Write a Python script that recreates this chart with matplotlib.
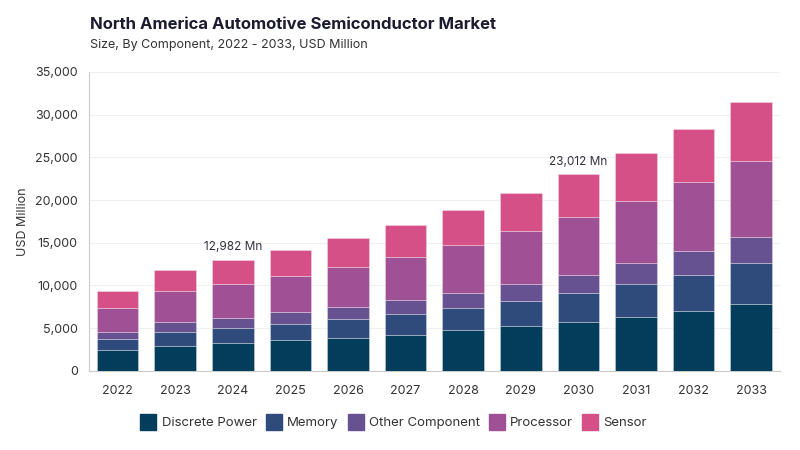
import numpy as np
import matplotlib
matplotlib.use('Agg')
import matplotlib.pyplot as plt
from matplotlib.lines import Line2D

plt.rcParams['font.family'] = ['Inter', 'DejaVu Sans']

# data (USD Million)
years = ['2022', '2023', '2024', '2025', '2026', '2027',
         '2028', '2029', '2030', '2031', '2032', '2033']
discrete_power = [2380, 2960, 3200, 3550, 3900, 4250, 4770, 5190, 5770, 6360, 7060, 7880]
memory = [1290, 1640, 1870, 1990, 2220, 2460, 2640, 3040, 3400, 3830, 4220, 4690]
other_component = [820, 1060, 1170, 1290, 1410, 1600, 1760, 1960, 2110, 2380, 2810, 3120]
processor = [2890, 3670, 3950, 4330, 4680, 5070, 5620, 6160, 6710, 7370, 8080, 8940]
sensor = [2020, 2500, 2792, 2970, 3320, 3680, 4020, 4450, 5022, 5540, 6170, 6830]

series_names = ['Discrete Power', 'Memory', 'Other Component', 'Processor', 'Sensor']
series_vals = [discrete_power, memory, other_component, processor, sensor]
colors = ['#023e5b', '#2f4b7c', '#665191', '#a05195', '#d45087']

callouts = {'2024': '12,982 Mn', '2030': '23,012 Mn'}

fig = plt.figure(figsize=(8, 4.5), dpi=100)
ax = fig.add_axes([0.111, 0.176, 0.864, 0.664])

x = np.arange(len(years))
bottom = np.zeros(len(years))
for name, vals, col in zip(series_names, series_vals, colors):
    ax.bar(x, vals, width=0.72, bottom=bottom, color=col,
           edgecolor=(1, 1, 1, 0.35), linewidth=0.6, label=name, zorder=3)
    bottom += np.array(vals)

for yr, txt in callouts.items():
    i = years.index(yr)
    ax.text(x[i], bottom[i] + 800, txt, ha='center', va='bottom',
            fontsize=8.5, color='#333340')

ax.set_xlim(-0.5, len(years) - 0.5)
ax.set_ylim(0, 35000)
ax.set_yticks(np.arange(0, 35001, 5000))
ax.yaxis.set_major_formatter(matplotlib.ticker.FuncFormatter(lambda v, p: f'{int(v):,}'))
ax.set_xticks(x)
ax.set_xticklabels(years)
ax.tick_params(axis='both', length=0, labelsize=9, colors='#333333')
ax.tick_params(axis='x', pad=10)
ax.tick_params(axis='y', pad=8)
ax.grid(axis='y', color='#f0f0f0', linewidth=0.8, zorder=0)
for s in ['top', 'right']:
    ax.spines[s].set_visible(False)
ax.spines['left'].set_color('#cccccc')
ax.spines['bottom'].set_color('#cccccc')
ax.set_ylabel('USD Million', fontsize=9, color='#333333', labelpad=4)

fig.text(0.1125, 0.935, 'North America Automotive Semiconductor Market',
         fontsize=12, fontweight='bold', color='#1c1c30')
fig.text(0.1125, 0.893, 'Size, By Component, 2022 - 2033, USD Million',
         fontsize=9, color='#333333')

handles = [Line2D([0], [0], marker='s', linestyle='', markersize=11,
                  markerfacecolor=c, markeredgecolor=c) for c in colors]
fig.legend(handles, series_names, loc='center', bbox_to_anchor=(0.493, 0.06),
           ncol=5, frameon=False, fontsize=9.5, handlelength=1.0,
           handletextpad=0.5, columnspacing=0.8, labelcolor='#333333')

fig.savefig('out.png', dpi=100)
